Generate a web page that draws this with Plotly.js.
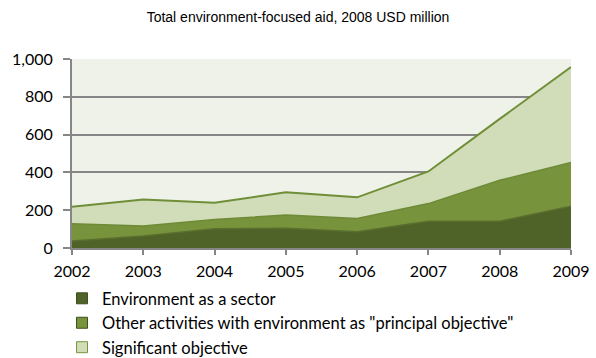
<!DOCTYPE html>
<html><head><meta charset="utf-8">
<script src="https://cdn.plot.ly/plotly-3.0.1.min.js"></script>
<style>body{margin:0;background:#fff}#c{width:596px;height:358px}</style>
</head><body><div id="c"></div>
<script>
const years = [2002, 2003, 2004, 2005, 2006, 2007, 2008, 2009];
const sector = [37, 63, 102, 104, 86, 142, 142, 221];
const principal = [91, 53, 49, 70, 70, 93, 216, 232];
const significant = [90, 140, 88, 121, 112, 170, 325, 505];
const names = ['Environment as a sector', 'Other activities with environment as "principal objective"', 'Significant objective'];
const tickVals = [0, 200, 400, 600, 800, 1000];
const tickText = ['0', '200', '400', '600', '800', '1,000'];
const fills = ['#4f6228', '#77933c', '#d0ddb8'];
const edges = ['#5a6f2e', '#6f8a37', '#6f8e37'];
const series = [sector, principal, significant];

const traces = series.map((s, i) => ({
  x: years, y: s, name: names[i], stackgroup: 'a', fillcolor: fills[i],
  line: {color: edges[i], width: i === 2 ? 2 : 1.5}, mode: 'lines', showlegend: false
}));
// legend entries (square swatches like the original)
series.forEach((s, i) => traces.push({
  x: [null], y: [null], name: names[i], mode: 'markers', legendgroup: 'g' + i,
  marker: {symbol: 'square', size: 11, color: fills[i], line: {color: i === 2 ? '#77933c' : '#3f4f20', width: 1}}
}));

const layout = {
  width: 596, height: 358,
  margin: {l: 72, r: 25, t: 59, b: 110, autoexpand: false},
  paper_bgcolor: '#ffffff', plot_bgcolor: '#eff2e9',
  title: {text: 'Total environment-focused aid, 2008 USD million', x: 0.5, xanchor: 'center', y: 0.953, yanchor: 'middle',
          font: {family: 'Liberation Sans, Arial, sans-serif', size: 14, color: '#000'}},
  font: {family: 'Lato, sans-serif', size: 16, color: '#000'},
  xaxis: {range: [2002, 2009], tickvals: years, ticks: 'outside', ticklen: 5, tickcolor: '#868686', tickwidth: 2,
          ticklabelstandoff: 3,
          showline: true, linecolor: '#868686', linewidth: 2, showgrid: false, zeroline: false, fixedrange: true},
  yaxis: {range: [0, 1000], tickvals: tickVals, ticktext: tickText, ticks: 'outside', ticklen: 7, tickcolor: '#868686', tickwidth: 2,
          ticklabelstandoff: 7,
          showline: true, linecolor: '#868686', linewidth: 2, showgrid: true, gridcolor: '#868686', gridwidth: 2, zeroline: false},
  legend: {x: -0.02, xanchor: 'left', y: -0.175, yanchor: 'top', orientation: 'v', traceorder: 'normal',
           font: {family: 'Lato, sans-serif', size: 16.5}, itemwidth: 30, tracegroupgap: 3, bgcolor: 'rgba(0,0,0,0)'},
  showlegend: true
};
Plotly.newPlot('c', traces, layout, {displayModeBar: false, staticPlot: true});
</script></body></html>
